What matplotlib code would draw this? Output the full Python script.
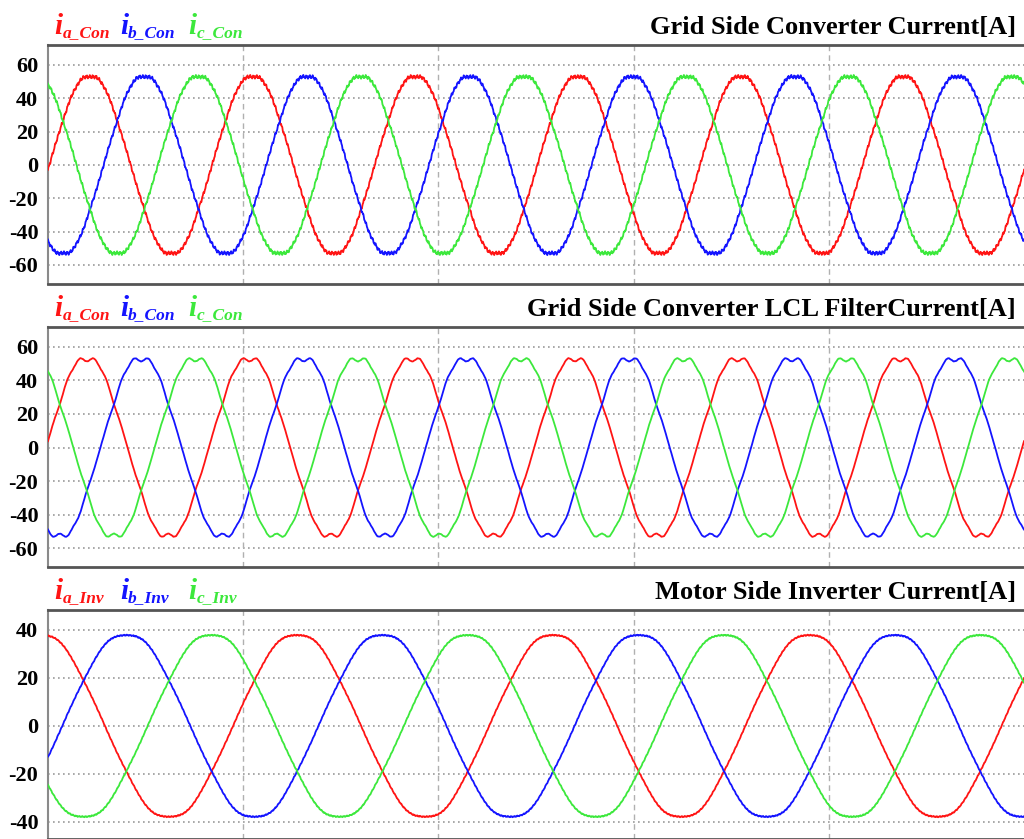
import numpy as np
import matplotlib.pyplot as plt

# scope screen, time in ms (vertical grid every 20 ms)
t_ms = np.linspace(0, 100, 20001)

titles = ['Grid Side Converter Current[A]',
          'Grid Side Converter LCL FilterCurrent[A]',
          'Motor Side Inverter Current[A]']
subs = [['a_Con', 'b_Con', 'c_Con'],
        ['a_Con', 'b_Con', 'c_Con'],
        ['a_Inv', 'b_Inv', 'c_Inv']]
yticks = [[60, 40, 20, 0, -20, -40, -60],
          [60, 40, 20, 0, -20, -40, -60],
          [40, 20, 0, -20, -40]]
ylims = [(-71.4, 72.0), (-71.3, 71.9), (-47.1, 48.3)]

# fundamental (peak A, Hz, phase of phase-a in deg)
amp = [54.0, 54.0, 38.5]
freq_hz = [60.0, 60.0, 38.1]
phase_deg = [-3.0, 4.0, 100.0]
# low-order distortion (5th, 7th, 11th, 13th) in A
harmonics = [[-0.5, 0.3, 0.2, -0.15],
             [-0.9, 0.6, 0.6, -0.5],
             [-0.4, 0.3, 0.0, 0.0]]
harm_order = [5, 7, 11, 13]
# switching ripple amplitude in A
ripple = [1.1, 0.15, 0.25]

colors = ['#ff1414', '#1414ff', '#3ce83c']
W, H = 1024, 839

# axes boxes in pixels: left, top, right, bottom
boxes = [(48, 45, 1024, 284), (48, 327, 1024, 567), (48, 610, 1024, 839)]
legend_x = [(54, 63), (120, 128), (188, 197)]
serif = 'Liberation Serif'


def px(x, y):
    return x / W, 1 - y / H


fig = plt.figure(figsize=(W / 100, H / 100), dpi=100)

for p in range(3):
    l, t, r, b = boxes[p]
    ax = fig.add_axes([l / W, 1 - b / H, (r - l) / W, (b - t) / H])
    w = 2 * np.pi * freq_hz[p] * t_ms / 1000.0
    for k in range(3):
        th = w + np.deg2rad(phase_deg[p] - 120 * k)
        y = amp[p] * np.sin(th)
        for n, h in zip(harm_order, harmonics[p]):
            y += h * np.sin(n * th)
        y += ripple[p] * (0.6 * np.sin(2 * np.pi * 3.1 * t_ms + k)
                          + 0.4 * np.sin(2 * np.pi * 7.3 * t_ms + 2 * k))
        ax.plot(t_ms, y, color=colors[k], lw=1.3, zorder=3)

    ax.set_xlim(0, 100)
    ax.set_ylim(*ylims[p])
    ax.set_yticks(yticks[p])
    ax.set_yticklabels([str(v) for v in yticks[p]], fontfamily=serif,
                       fontweight='bold', fontsize=16)
    ax.set_xticks([20, 40, 60, 80])
    ax.tick_params(axis='both', length=0, pad=7)
    ax.tick_params(axis='x', labelbottom=False)
    for v in yticks[p]:
        ax.axhline(v, color='#9a9a9a', lw=1.2, ls=(0, (1, 2)), zorder=1)
    for v in [20, 40, 60, 80]:
        ax.axvline(v, color='#b0b0b0', lw=1.0, ls=(0, (4, 3)), zorder=1)
    ax.spines['top'].set_color('#555555')
    ax.spines['top'].set_linewidth(2)
    ax.spines['bottom'].set_color('#555555')
    ax.spines['bottom'].set_linewidth(2)
    ax.spines['left'].set_color('#8a8a8a')
    ax.spines['left'].set_linewidth(1.5)
    ax.spines['right'].set_visible(False)

    base = t - 11
    fig.text(*px(1016, base), titles[p], ha='right', va='baseline',
             fontfamily=serif, fontweight='bold', fontsize=19)
    for k in range(3):
        xi, xs = legend_x[k]
        fig.text(*px(xi, base), 'i', ha='left', va='baseline', color=colors[k],
                 fontfamily=serif, fontweight='bold', fontstyle='italic',
                 fontsize=21)
        fig.text(*px(xs, base + 3), subs[p][k], ha='left', va='baseline',
                 color=colors[k], fontfamily=serif, fontweight='bold',
                 fontstyle='italic', fontsize=12.5)

fig.savefig('out.png', dpi=100)
